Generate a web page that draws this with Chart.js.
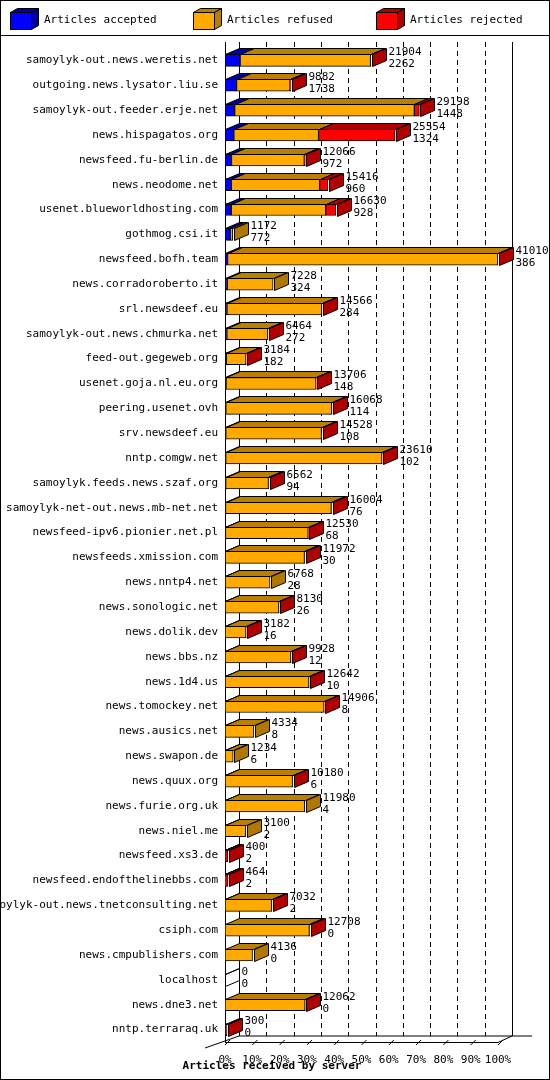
<!DOCTYPE html>
<html>
<head>
<meta charset="utf-8">
<script src="https://cdn.jsdelivr.net/npm/chart.js@4/dist/chart.umd.min.js"></script>
<style>
  html, body { margin: 0; padding: 0; background: #fff; }
  #wrap { width: 550px; height: 1080px; position: relative; }
</style>
</head>
<body>
<div id="wrap"><canvas id="chart" width="550" height="1080"></canvas></div>
<script>
// -------------------- Data --------------------
const servers = [
  "samoylyk-out.news.weretis.net", "outgoing.news.lysator.liu.se", "samoylyk-out.feeder.erje.net",
  "news.hispagatos.org", "newsfeed.fu-berlin.de", "news.neodome.net", "usenet.blueworldhosting.com",
  "gothmog.csi.it", "newsfeed.bofh.team", "news.corradoroberto.it", "srl.newsdeef.eu",
  "samoylyk-out.news.chmurka.net", "feed-out.gegeweb.org", "usenet.goja.nl.eu.org", "peering.usenet.ovh",
  "srv.newsdeef.eu", "nntp.comgw.net", "samoylyk.feeds.news.szaf.org", "samoylyk-net-out.news.mb-net.net",
  "newsfeed-ipv6.pionier.net.pl", "newsfeeds.xmission.com", "news.nntp4.net", "news.sonologic.net",
  "news.dolik.dev", "news.bbs.nz", "news.1d4.us", "news.tomockey.net", "news.ausics.net", "news.swapon.de",
  "news.quux.org", "news.furie.org.uk", "news.niel.me", "newsfeed.xs3.de", "newsfeed.endofthelinebbs.com",
  "samoylyk-out.news.tnetconsulting.net", "csiph.com", "news.cmpublishers.com", "localhost",
  "news.dne3.net", "nntp.terraraq.uk"
];
// first number printed next to each bar (articles offered)
const offered = [21904, 9882, 29198, 25554, 12066, 15416, 16630, 1172, 41010, 7228, 14566, 6464, 3184,
  13706, 16068, 14528, 23610, 6562, 16004, 12530, 11972, 6768, 8130, 3182, 9928, 12642, 14906, 4334,
  1234, 10180, 11980, 3100, 400, 464, 7032, 12708, 4136, 0, 12062, 300];
// second number printed next to each bar (articles accepted)
const accepted = [2262, 1738, 1448, 1324, 972, 960, 928, 772, 386, 324, 284, 272, 182, 148, 114, 108,
  102, 94, 76, 68, 30, 28, 26, 16, 12, 10, 8, 8, 6, 6, 4, 2, 2, 2, 2, 0, 0, 0, 0, 0];
// rejected, estimated from the red part of each bar
const rejected = [30, 100, 750, 11500, 150, 1200, 1500, 0, 30, 0, 30, 30, 30, 30, 30, 30, 30, 30, 30,
  30, 30, 0, 30, 30, 30, 30, 30, 0, 0, 30, 0, 0, 380, 400, 30, 30, 0, 0, 30, 300];
const refused = offered.map((v, i) => Math.max(0, v - accepted[i] - rejected[i]));

const FONT = "'DejaVu Sans Mono', monospace";
const DX = 14, DY = 6;
const front = ["#0000ff", "#ffaa00", "#ff0000"];
const top3d = ["#0000a8", "#b87f00", "#b00000"];
const side3d = ["#0000a8", "#b07800", "#b00000"];

// -------------------- 3D + decorations --------------------
const decor = {
  id: "decor",
  beforeDatasetsDraw(chart) {
    const { ctx, chartArea: a, scales: { x } } = chart;
    const B = a.bottom;
    ctx.save();
    ctx.strokeStyle = "#000";
    ctx.lineWidth = 1;
    // back wall grid
    ctx.setLineDash([5, 4]);
    for (let i = 1; i < 10; i++) {
      const px = Math.round(x.getPixelForValue(i * 4101)) + DX + 0.5;
      ctx.beginPath(); ctx.moveTo(px, a.top - 6); ctx.lineTo(px, B - DY); ctx.stroke();
    }
    ctx.setLineDash([]);
    ctx.beginPath();
    ctx.moveTo(x.left + DX + 0.5, a.top - 6); ctx.lineTo(x.left + DX + 0.5, B - DY);
    ctx.moveTo(x.right + DX + 0.5, a.top - 6); ctx.lineTo(x.right + DX + 0.5, B - DY);
    ctx.moveTo(x.left + 0.5, a.top - 6); ctx.lineTo(x.left + 0.5, B);
    // floor
    ctx.moveTo(x.left - 20, B + 6); ctx.lineTo(x.left + DX, B - DY);
    ctx.lineTo(x.right + DX + 20, B - DY);
    ctx.moveTo(x.left, B + 0.5); ctx.lineTo(x.right, B + 0.5); ctx.lineTo(x.right + DX, B - DY);
    for (let i = 0; i <= 10; i++) {
      const px = x.getPixelForValue(i * 4101);
      ctx.moveTo(px, B + 3); ctx.lineTo(px + 5, B - 2);
    }
    ctx.stroke();
    ctx.restore();
  },
  afterDatasetsDraw(chart) {
    const { ctx, scales: { x } } = chart;
    ctx.save();
    ctx.strokeStyle = "#000";
    ctx.lineWidth = 1;
    const metas = [0, 1, 2].map(i => chart.getDatasetMeta(i));
    servers.forEach((s, r) => {
      const bar = metas[0].data[r];
      const t = Math.round(bar.y - bar.height / 2) + 0.5;
      const b = Math.round(bar.y + bar.height / 2) + 0.5;
      let last = -1, endX = x.getPixelForValue(0);
      const series = [accepted, refused, rejected];
      let cum = 0;
      series.forEach((arr, k) => {
        const x0 = Math.round(x.getPixelForValue(cum)) + 0.5;
        cum += arr[r];
        const x1 = Math.round(x.getPixelForValue(cum)) + 0.5;
        if (arr[r] > 0) {
          last = k; endX = x1;
          ctx.fillStyle = top3d[k];
          ctx.beginPath();
          ctx.moveTo(x0, t); ctx.lineTo(x1, t); ctx.lineTo(x1 + DX, t - DY); ctx.lineTo(x0 + DX, t - DY);
          ctx.closePath(); ctx.fill(); ctx.stroke();
        }
      });
      endX = Math.round(endX) + 0.5;
      ctx.fillStyle = last >= 0 ? side3d[last] : "#fff";
      ctx.beginPath();
      ctx.moveTo(endX, t); ctx.lineTo(endX + DX, t - DY); ctx.lineTo(endX + DX, b - DY); ctx.lineTo(endX, b);
      ctx.closePath();
      if (last >= 0) ctx.fill();
      ctx.stroke();
      if (last < 0) {
        ctx.beginPath(); ctx.moveTo(endX, t); ctx.lineTo(endX + DX, t - DY); ctx.stroke();
      }
      ctx.fillStyle = "#000";
      ctx.font = "11px " + FONT;
      ctx.textAlign = "left";
      ctx.textBaseline = "middle";
      ctx.fillText(String(offered[r]), endX + DX + 2, bar.y - 8);
      ctx.fillText(String(accepted[r]), endX + DX + 2, bar.y + 4);
    });
    ctx.restore();
  },
  afterDraw(chart) {
    const { ctx } = chart;
    ctx.save();
    ctx.strokeStyle = "#000";
    ctx.lineWidth = 1;
    ctx.strokeRect(0.5, 0.5, 549, 1079);
    ctx.beginPath(); ctx.moveTo(0, 35.5); ctx.lineTo(550, 35.5); ctx.stroke();
    // legend
    const items = [["Articles accepted", 10, 0], ["Articles refused", 193, 1], ["Articles rejected", 376, 2]];
    ctx.font = "11px " + FONT;
    ctx.textBaseline = "middle";
    items.forEach(([txt, lx, k]) => {
      const L = lx + 0.5, T = 12.5, W = 21, H = 17, d = 7;
      ctx.fillStyle = top3d[k];
      ctx.beginPath(); ctx.moveTo(L, T); ctx.lineTo(L + d, T - 4); ctx.lineTo(L + W + d, T - 4); ctx.lineTo(L + W, T);
      ctx.closePath(); ctx.fill(); ctx.stroke();
      ctx.beginPath(); ctx.moveTo(L + W, T); ctx.lineTo(L + W + d, T - 4); ctx.lineTo(L + W + d, T + H - 4); ctx.lineTo(L + W, T + H);
      ctx.closePath(); ctx.fill(); ctx.stroke();
      ctx.fillStyle = front[k];
      ctx.fillRect(L, T, W, H); ctx.strokeRect(L, T, W, H);
      ctx.fillStyle = "#000";
      ctx.textAlign = "left";
      ctx.fillText(txt, lx + 34, 20);
    });
    ctx.font = "bold 11px " + FONT;
    ctx.textAlign = "center";
    ctx.fillText("Articles received by server", 272, 1066);
    ctx.restore();
  }
};

// -------------------- Chart --------------------
new Chart(document.getElementById("chart"), {
  type: "bar",
  data: {
    labels: servers,
    datasets: [
      { label: "Articles accepted", data: accepted, backgroundColor: front[0] },
      { label: "Articles refused", data: refused, backgroundColor: front[1] },
      { label: "Articles rejected", data: rejected, backgroundColor: front[2] }
    ].map(d => Object.assign(d, { borderColor: "#000", borderWidth: 1, barThickness: 12, borderSkipped: false }))
  },
  options: {
    indexAxis: "y",
    responsive: false,
    animation: false,
    layout: { padding: { top: 48, right: 52, left: 0, bottom: 0 } },
    plugins: { legend: { display: false }, tooltip: { enabled: false } },
    scales: {
      x: {
        stacked: true, min: 0, max: 41010,
        afterFit: s => { s.height = 38; },
        afterBuildTicks: s => { s.ticks = Array.from({ length: 11 }, (_, i) => ({ value: i * 4101 })); },
        grid: { display: false },
        border: { display: false },
        ticks: {
          color: "#000", font: { family: FONT, size: 11 }, padding: 4, maxRotation: 0, autoSkip: false,
          callback: (v, i) => (i * 10) + "%"
        }
      },
      y: {
        stacked: true,
        afterFit: s => { s.width = 225; },
        grid: { display: false, drawTicks: false },
        border: { display: false },
        ticks: { color: "#000", font: { family: FONT, size: 11 }, padding: 7, autoSkip: false }
      }
    }
  },
  plugins: [decor]
});
</script>
</body>
</html>
